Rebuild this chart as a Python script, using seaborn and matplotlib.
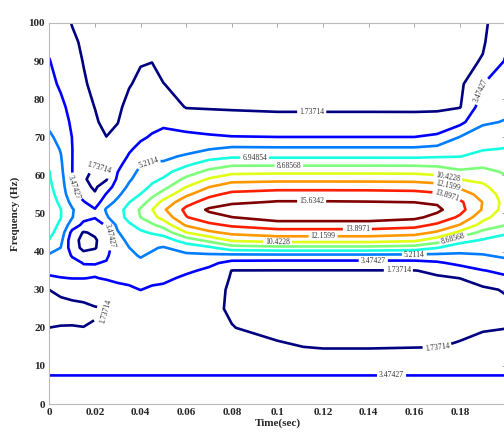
import numpy as np
import matplotlib
matplotlib.use('Agg')
import matplotlib.pyplot as plt
import seaborn as sns

# time axis (columns) and frequency axis (rows) of the read-off grid
time_sec = [0, 0.005, 0.01, 0.015, 0.02, 0.025, 0.03, 0.035, 0.04, 0.045, 0.05,
            0.06, 0.07, 0.08, 0.1, 0.12, 0.14, 0.16, 0.17, 0.18, 0.19, 0.2]
freq_hz = [0, 5, 10, 15, 20, 25, 30, 33, 35, 37, 39, 41, 43, 45, 47, 49, 51, 53,
           55, 57, 59, 61, 63, 65, 67, 70, 74, 78, 84, 90, 95, 100]

# estimated magnitude, one list per time column (bottom -> top in frequency)
power_by_time = [
    [5.0, 4.3, 2.65, 2.1, 1.74, 1.45, 1.74, 3.2, 3.9, 4.4, 5.0, 6.0, 6.9, 7.4, 7.8, 8.0, 8.0, 7.8, 7.5, 7.3, 7.1, 6.99, 6.7, 6.3, 5.95, 5.45, 4.9, 4.5, 4.0, 3.55, 3.1, 2.8],
    [5.0, 4.3, 2.65, 2.05, 1.78, 1.4, 1.95, 3.4, 4.0, 4.5, 4.9, 5.2, 5.7, 6.2, 6.6, 7.0, 7.0, 6.6, 6.3, 6.0, 5.8, 5.6, 5.45, 5.3, 5.1, 4.8, 4.3, 3.9, 3.2, 2.7, 2.35, 2.1],
    [5.0, 4.3, 2.65, 2.05, 1.78, 1.45, 2.1, 3.5, 4.0, 4.1, 3.3, 2.6, 2.4, 3.0, 4.4, 5.3, 5.4, 4.7, 4.0, 3.7, 3.55, 3.5, 3.5, 3.5, 3.5, 3.45, 3.2, 2.9, 2.5, 2.1, 1.9, 1.7],
    [5.0, 4.3, 2.65, 2.05, 1.75, 1.5, 2.2, 3.5, 3.9, 3.4, 2.3, 1.3, 1.25, 1.6, 3.1, 3.9, 4.0, 3.6, 2.8, 2.2, 1.9, 2.1, 2.3, 2.5, 2.5, 2.4, 2.2, 2.0, 1.85, 1.7, 1.6, 1.55],
    [5.0, 4.3, 2.65, 2.1, 1.8, 1.65, 2.4, 3.4, 3.8, 3.4, 2.6, 1.6, 1.55, 2.0, 2.9, 3.55, 3.6, 2.6, 1.9, 1.5, 1.3, 1.5, 1.8, 2.0, 2.0, 1.95, 1.85, 1.72, 1.5, 1.35, 1.3, 1.25],
    [5.0, 4.3, 2.65, 2.1, 1.85, 1.72, 2.6, 3.6, 3.8, 3.6, 3.2, 2.8, 2.6, 2.9, 3.6, 5.0, 5.4, 4.5, 3.6, 2.6, 1.6, 1.75, 2.0, 2.0, 1.9, 1.75, 1.5, 1.35, 1.25, 1.2, 1.15, 1.1],
    [5.0, 4.3, 2.65, 2.2, 2.0, 1.85, 3.0, 3.8, 4.1, 4.3, 4.5, 4.6, 4.8, 5.1, 5.6, 6.2, 6.3, 5.6, 4.9, 4.3, 3.8, 3.45, 3.1, 2.8, 2.5, 2.1, 1.7, 1.5, 1.35, 1.25, 1.2, 1.15],
    [5.0, 4.3, 2.65, 2.3, 2.2, 2.1, 3.2, 3.9, 4.4, 4.8, 5.0, 5.2, 5.5, 6.0, 6.7, 7.5, 7.6, 6.9, 6.1, 5.5, 5.0, 4.5, 4.0, 3.6, 3.3, 3.0, 2.6, 2.1, 1.65, 1.45, 1.35, 1.3],
    [5.0, 4.3, 2.65, 2.3, 2.3, 2.3, 3.5, 4.0, 4.6, 5.0, 5.3, 5.6, 6.1, 6.7, 7.5, 8.7, 8.9, 7.9, 7.0, 6.3, 5.9, 5.6, 5.1, 4.4, 3.8, 3.3, 3.0, 2.7, 2.0, 1.65, 1.5, 1.4],
    [5.0, 4.3, 2.65, 2.3, 2.3, 2.35, 3.2, 3.95, 4.4, 4.75, 5.05, 5.35, 6.1, 7.1, 8.4, 9.9, 10.35, 9.4, 8.2, 7.2, 6.6, 6.0, 5.4, 4.9, 4.2, 3.6, 3.1, 2.65, 2.0, 1.72, 1.5, 1.4],
    [5.0, 4.3, 2.65, 2.3, 2.3, 2.4, 3.0, 3.9, 4.2, 4.5, 4.8, 5.1, 6.1, 7.6, 9.4, 11.0, 11.9, 10.9, 9.4, 8.1, 7.1, 6.4, 5.4, 4.9, 4.5, 3.9, 3.2, 2.6, 1.75, 1.5, 1.4, 1.35],
    [5.0, 4.3, 2.65, 2.2, 2.1, 2.1, 2.4, 3.1, 3.8, 4.4, 4.9, 5.9, 7.8, 10.4, 12.4, 13.8, 14.3, 13.3, 11.8, 10.4, 9.1, 7.8, 6.6, 5.4, 4.7, 3.9, 2.7, 1.65, 1.5, 1.4, 1.35, 1.3],
    [5.0, 4.3, 2.65, 2.0, 1.95, 1.9, 2.1, 2.6, 3.1, 3.9, 4.9, 6.6, 9.2, 11.8, 13.5, 15.0, 15.9, 14.6, 13.5, 12.1, 10.6, 9.1, 7.7, 6.3, 5.1, 3.7, 2.5, 1.6, 1.4, 1.3, 1.25, 1.2],
    [5.0, 4.3, 2.65, 1.9, 1.76, 1.65, 1.6, 1.62, 1.7, 2.9, 4.8, 7.9, 10.7, 12.6, 14.2, 15.6, 16.6, 15.3, 14.3, 13.1, 11.5, 9.9, 8.3, 6.7, 5.5, 3.55, 2.4, 1.55, 1.35, 1.2, 1.15, 1.1],
    [5.0, 4.3, 2.65, 1.85, 1.5, 1.3, 1.3, 1.52, 1.69, 2.82, 4.84, 8.17, 11.17, 13.11, 14.87, 16.4, 17.3, 15.76, 14.62, 13.32, 11.66, 10.0, 8.32, 6.65, 5.45, 3.5, 2.32, 1.45, 1.3, 1.15, 1.1, 1.05],
    [5.0, 4.3, 2.65, 1.65, 1.3, 1.15, 1.25, 1.52, 1.69, 2.82, 4.84, 8.17, 11.17, 13.11, 14.87, 16.4, 17.3, 15.76, 14.62, 13.32, 11.66, 10.0, 8.32, 6.65, 5.45, 3.5, 2.32, 1.45, 1.3, 1.15, 1.1, 1.05],
    [5.0, 4.3, 2.65, 1.65, 1.3, 1.15, 1.25, 1.52, 1.69, 2.82, 4.84, 8.17, 11.17, 13.11, 14.87, 16.4, 17.2, 15.7, 14.6, 13.3, 11.65, 10.0, 8.32, 6.65, 5.45, 3.5, 2.32, 1.45, 1.3, 1.15, 1.1, 1.05],
    [5.0, 4.3, 2.65, 1.7, 1.35, 1.2, 1.3, 1.55, 1.7, 2.85, 4.8, 7.9, 10.8, 12.8, 14.5, 16.0, 16.8, 15.6, 14.5, 13.2, 11.6, 9.95, 8.3, 6.65, 5.45, 3.5, 2.3, 1.45, 1.3, 1.15, 1.1, 1.05],
    [5.0, 4.3, 2.65, 1.72, 1.4, 1.25, 1.35, 1.6, 1.95, 3.2, 4.8, 7.0, 9.6, 11.9, 13.6, 15.1, 16.0, 15.4, 14.2, 12.9, 11.3, 9.7, 8.2, 6.8, 5.7, 3.8, 2.3, 1.5, 1.3, 1.15, 1.1, 1.05],
    [5.0, 4.3, 2.65, 1.8, 1.6, 1.4, 1.5, 1.74, 2.6, 3.9, 4.9, 6.0, 7.6, 10.0, 12.1, 13.6, 14.5, 14.2, 13.0, 11.9, 10.4, 8.9, 8.0, 6.9, 6.3, 5.3, 3.0, 1.65, 1.4, 1.25, 1.2, 1.15],
    [5.0, 4.3, 2.65, 1.95, 1.68, 1.5, 1.6, 2.1, 3.4, 4.4, 5.1, 5.9, 6.8, 8.2, 9.8, 11.0, 12.0, 12.1, 11.6, 10.8, 10.0, 9.1, 8.3, 7.5, 6.8, 6.0, 5.0, 4.3, 3.45, 1.85, 1.55, 1.4],
    [5.0, 4.3, 2.65, 2.1, 1.72, 1.55, 1.8, 3.2, 3.85, 4.7, 5.5, 6.0, 6.5, 7.1, 8.75, 9.3, 9.7, 9.8, 9.6, 9.3, 8.95, 8.5, 7.9, 7.4, 7.0, 6.3, 5.3, 4.8, 4.2, 3.6, 3.2, 2.9],
]

contour_levels = [1.73714, 3.47427, 5.2114, 6.94854, 8.68568,
                  10.4228, 12.1599, 13.8971, 15.6342]

x_ticks = [0, 0.02, 0.04, 0.06, 0.08, 0.1, 0.12, 0.14, 0.16, 0.18]
x_tick_labels = ['0', '0.02', '0.04', '0.06', '0.08', '0.1', '0.12', '0.14', '0.16', '0.18']
y_ticks = [0, 10, 20, 30, 40, 50, 60, 70, 80, 90, 100]

# where the inline labels sit
label_spots = [
    (0.115, 76), (0.022, 62), (0.025, 24), (0.17, 15), (0.153, 35.3),
    (0.011, 57), (0.19, 82), (0.15, 7.5), (0.026, 44), (0.142, 37.8),
    (0.043, 64), (0.16, 39.4),
    (0.09, 64.5),
    (0.105, 62.6), (0.177, 43.6),
    (0.175, 60.5), (0.1, 42.4),
    (0.175, 58.4), (0.12, 43.4),
    (0.175, 56.3), (0.135, 46),
    (0.115, 53.2),
]

sns.set_theme(style='white')
plt.rcParams['font.family'] = ['Liberation Serif', 'DejaVu Serif']

fig = plt.figure(figsize=(5.04, 4.4), dpi=100)
ax = fig.add_axes([49.3 / 504, 1 - 404 / 440, 456.3 / 504, 381 / 440])

Z = np.array(power_by_time).T
cs = ax.contour(time_sec, freq_hz, Z, levels=contour_levels, cmap='jet',
                linewidths=1.9)
ax.clabel(cs, fmt='%g', fontsize=5.5, colors='#333333', manual=label_spots,
          inline=True, inline_spacing=2)

ax.set_xlim(0, 0.2)
ax.set_ylim(0, 100)
ax.set_xticks(x_ticks)
ax.set_xticklabels(x_tick_labels)
ax.set_yticks(y_ticks)
ax.tick_params(direction='in', top=True, right=True, length=3, width=0.6,
               color='#999999', labelsize=8, pad=3)
for lab in ax.get_xticklabels() + ax.get_yticklabels():
    lab.set_fontweight('bold')
for sp in ax.spines.values():
    sp.set_color('#bbbbbb')
    sp.set_linewidth(0.8)

ax.set_xlabel('Time(sec)', fontsize=8, fontweight='bold', labelpad=1)
ax.set_ylabel('Frequency (Hz)', fontsize=8, fontweight='bold', labelpad=6)

fig.savefig('out.png', dpi=100)
